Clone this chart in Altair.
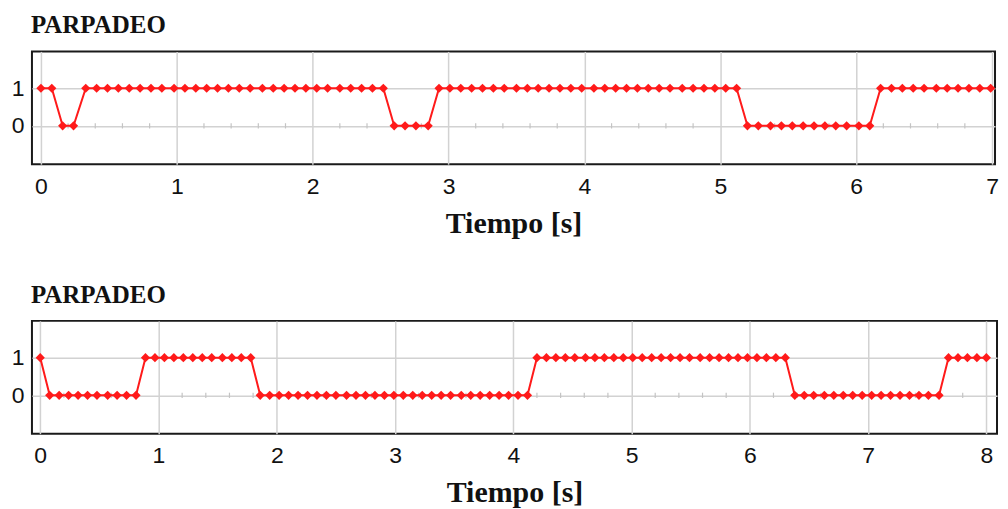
import altair as alt
import pandas as pd

# ---- data ----
times_top = [0.00, 0.08, 0.16, 0.24, 0.33, 0.41, 0.49, 0.57, 0.65, 0.73,
             0.81, 0.89, 0.98, 1.06, 1.14, 1.22, 1.30, 1.38, 1.46, 1.54,
             1.63, 1.71, 1.79, 1.87, 1.95, 2.03, 2.11, 2.20, 2.28, 2.36,
             2.44, 2.52, 2.60, 2.68, 2.76, 2.85, 2.93, 3.01, 3.09, 3.17,
             3.25, 3.33, 3.41, 3.50, 3.58, 3.66, 3.74, 3.82, 3.90, 3.98,
             4.07, 4.15, 4.23, 4.31, 4.39, 4.47, 4.55, 4.63, 4.72, 4.80,
             4.88, 4.96, 5.04, 5.12, 5.20, 5.28, 5.37, 5.45, 5.53, 5.61,
             5.69, 5.77, 5.85, 5.93, 6.02, 6.10, 6.18, 6.26, 6.34, 6.42,
             6.50, 6.59, 6.67, 6.75, 6.83, 6.91, 6.99]
values_top = [1, 1, 0, 0, 1, 1, 1, 1, 1, 1,
              1, 1, 1, 1, 1, 1, 1, 1, 1, 1,
              1, 1, 1, 1, 1, 1, 1, 1, 1, 1,
              1, 1, 0, 0, 0, 0, 1, 1, 1, 1,
              1, 1, 1, 1, 1, 1, 1, 1, 1, 1,
              1, 1, 1, 1, 1, 1, 1, 1, 1, 1,
              1, 1, 1, 1, 0, 0, 0, 0, 0, 0,
              0, 0, 0, 0, 0, 0, 1, 1, 1, 1,
              1, 1, 1, 1, 1, 1, 1]

times_bottom = [0.00, 0.08, 0.16, 0.24, 0.32, 0.40, 0.48, 0.57, 0.65, 0.73,
                0.81, 0.89, 0.97, 1.05, 1.13, 1.21, 1.29, 1.37, 1.45, 1.54,
                1.62, 1.70, 1.78, 1.86, 1.94, 2.02, 2.10, 2.18, 2.26, 2.34,
                2.42, 2.50, 2.59, 2.67, 2.75, 2.83, 2.91, 2.99, 3.07, 3.15,
                3.23, 3.31, 3.39, 3.47, 3.56, 3.64, 3.72, 3.80, 3.88, 3.96,
                4.04, 4.12, 4.20, 4.28, 4.36, 4.44, 4.52, 4.61, 4.69, 4.77,
                4.85, 4.93, 5.01, 5.09, 5.17, 5.25, 5.33, 5.41, 5.49, 5.58,
                5.66, 5.74, 5.82, 5.90, 5.98, 6.06, 6.14, 6.22, 6.30, 6.38,
                6.46, 6.54, 6.63, 6.71, 6.79, 6.87, 6.95, 7.03, 7.11, 7.19,
                7.27, 7.35, 7.43, 7.51, 7.60, 7.68, 7.76, 7.84, 7.92, 8.00]
values_bottom = [1, 0, 0, 0, 0, 0, 0, 0, 0, 0,
                 0, 1, 1, 1, 1, 1, 1, 1, 1, 1,
                 1, 1, 1, 0, 0, 0, 0, 0, 0, 0,
                 0, 0, 0, 0, 0, 0, 0, 0, 0, 0,
                 0, 0, 0, 0, 0, 0, 0, 0, 0, 0,
                 0, 0, 1, 1, 1, 1, 1, 1, 1, 1,
                 1, 1, 1, 1, 1, 1, 1, 1, 1, 1,
                 1, 1, 1, 1, 1, 1, 1, 1, 1, 0,
                 0, 0, 0, 0, 0, 0, 0, 0, 0, 0,
                 0, 0, 0, 0, 0, 1, 1, 1, 1, 1]

xticks_top = [0, 1, 2, 3, 4, 5, 6, 7]
xticks_bottom = [0, 1, 2, 3, 4, 5, 6, 7, 8]
yticks = [0, 1]
panel_title = "PARPADEO"
x_title = "Tiempo [s]"

RED = "#ff1a1a"
GRID = "#d2d2d2"


def panel(times, values, xticks, xdomain, width):
    df = pd.DataFrame({"t": times, "v": values})
    minor = [round(i * 0.2, 1) for i in range(0, int(xticks[-1] * 5) + 1) if i % 5 != 0]
    mdf = pd.DataFrame({"t": minor})
    xscale = alt.Scale(domain=xdomain, nice=False, zero=False)
    yscale = alt.Scale(domain=[-1.02, 1.98], nice=False, zero=False)
    xaxis = alt.Axis(values=xticks, format="d", grid=True, gridColor=GRID,
                     gridWidth=1.5, domain=False, ticks=False, labelFlush=False,
                     labelFont="Liberation Sans", labelFontSize=23,
                     labelColor="#111", labelPadding=11,
                     title=x_title, titleFont="Liberation Serif",
                     titleFontSize=30, titleFontWeight="bold",
                     titleColor="#111", titlePadding=10)
    yaxis = alt.Axis(values=yticks, format="d", grid=True, gridColor=GRID,
                     gridWidth=1.5, domain=False, ticks=False,
                     labelFont="Liberation Sans", labelFontSize=23,
                     labelColor="#111", labelPadding=8, title=None)
    ticks = alt.Chart(mdf).mark_rule(color="#c4c4c4", strokeWidth=1.2).encode(
        x=alt.X("t:Q", scale=xscale, axis=xaxis),
        y=alt.datum(-0.07, scale=yscale, axis=yaxis),
        y2=alt.datum(0.07),
    )
    line = alt.Chart(df).mark_line(color=RED, strokeWidth=2).encode(
        x=alt.X("t:Q", scale=xscale, axis=xaxis),
        y=alt.Y("v:Q", scale=yscale, axis=yaxis),
    )
    pts = alt.Chart(df).mark_point(shape="diamond", filled=True, color=RED,
                                   size=85, opacity=1).encode(
        x=alt.X("t:Q", scale=xscale, axis=xaxis),
        y=alt.Y("v:Q", scale=yscale, axis=yaxis),
    )
    return alt.layer(ticks, line, pts).properties(
        width=width, height=113,
        title=alt.TitleParams(panel_title, anchor="start", frame="group",
                              font="Liberation Serif", fontSize=25,
                              fontWeight="bold", color="#111",
                              baseline="alphabetic", offset=-7, dx=-1),
    )


top = panel(times_top, values_top, xticks_top, [-0.066, 7.022], 965)
bottom = panel(times_bottom, values_bottom, xticks_bottom, [-0.07, 8.09], 967)

chart = alt.vconcat(top, bottom, spacing=43).properties(
    padding={"left": 2, "top": 4, "right": 0, "bottom": 2}
).configure(background="white").configure_view(stroke="#1a1a1a", strokeWidth=2)

chart.save("out.html", embed_options={"renderer": "svg", "actions": False})
